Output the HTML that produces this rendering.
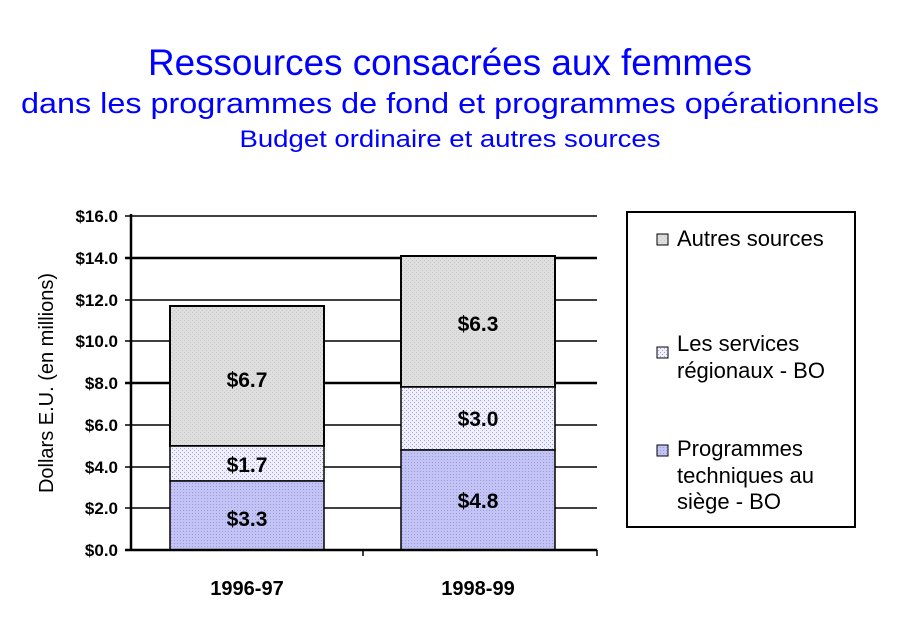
<!DOCTYPE html>
<html><head><meta charset="utf-8"><style>body{margin:0;background:#fff}svg{display:block}</style></head>
<body>
<svg width="900" height="623" xmlns="http://www.w3.org/2000/svg" font-family="Liberation Sans, sans-serif">
<defs>
<pattern id="pg" width="4" height="4" patternUnits="userSpaceOnUse"><rect width="4" height="4" fill="#dedede"/><rect width="1" height="1" fill="#c8c8c8"/><rect x="2" y="2" width="1" height="1" fill="#c8c8c8"/></pattern>
<pattern id="pm" width="4" height="4" patternUnits="userSpaceOnUse"><rect width="4" height="4" fill="#f0f0fa"/><rect width="1" height="1" fill="#a0a0e8"/><rect x="2" y="2" width="1" height="1" fill="#a0a0e8"/></pattern>
<pattern id="pb" width="3" height="3" patternUnits="userSpaceOnUse"><rect width="3" height="3" fill="#c4c4f4"/><rect width="1" height="1" fill="#9a9ae6"/></pattern>
</defs>
<g fill="#0000ff" text-anchor="middle">
<text x="450" y="75" font-size="37" textLength="604" lengthAdjust="spacingAndGlyphs">Ressources consacrées aux femmes</text>
<text x="450" y="113" font-size="29" textLength="858" lengthAdjust="spacingAndGlyphs">dans les programmes de fond et programmes opérationnels</text>
<text x="450" y="147" font-size="24" textLength="421" lengthAdjust="spacingAndGlyphs">Budget ordinaire et autres sources</text>
</g>
<g stroke="#000">
<line x1="125" y1="216" x2="597" y2="216" stroke-width="1.5"/>
<line x1="125" y1="258" x2="597" y2="258" stroke-width="2.5"/>
<line x1="125" y1="300" x2="597" y2="300" stroke-width="1.5"/>
<line x1="125" y1="341" x2="597" y2="341" stroke-width="1.5"/>
<line x1="125" y1="383" x2="597" y2="383" stroke-width="2.5"/>
<line x1="125" y1="425" x2="597" y2="425" stroke-width="1.5"/>
<line x1="125" y1="467" x2="597" y2="467" stroke-width="1.5"/>
<line x1="125" y1="508" x2="597" y2="508" stroke-width="1.5"/>
</g>
<rect x="170" y="306" width="154" height="140" fill="url(#pg)" stroke="#000" stroke-width="2"/>
<rect x="170" y="446" width="154" height="35" fill="url(#pm)" stroke="#000" stroke-width="1.5"/>
<rect x="170" y="481" width="154" height="69" fill="url(#pb)" stroke="#000" stroke-width="1.5"/>
<rect x="401" y="256" width="154" height="131" fill="url(#pg)" stroke="#000" stroke-width="2"/>
<rect x="401" y="387" width="154" height="63" fill="url(#pm)" stroke="#000" stroke-width="1.5"/>
<rect x="401" y="450" width="154" height="100" fill="url(#pb)" stroke="#000" stroke-width="1.5"/>
<g stroke="#000" stroke-width="2.5">
<line x1="131" y1="214" x2="131" y2="551"/>
<line x1="125" y1="550" x2="597" y2="550"/>
</g>
<line x1="363" y1="550" x2="363" y2="556" stroke="#000" stroke-width="1.5"/>
<line x1="597" y1="550" x2="597" y2="556" stroke="#000" stroke-width="1.5"/>
<g font-size="21" font-weight="bold" text-anchor="middle" fill="#000">
<text x="247" y="387">$6.7</text>
<text x="247" y="472">$1.7</text>
<text x="247" y="526">$3.3</text>
<text x="478" y="331">$6.3</text>
<text x="478" y="426">$3.0</text>
<text x="478" y="508">$4.8</text>
<text x="247" y="595" font-size="20">1996-97</text>
<text x="478" y="595" font-size="20">1998-99</text>
</g>
<g font-size="17" font-weight="bold" text-anchor="end" fill="#000">
<text x="118" y="222">$16.0</text>
<text x="118" y="264">$14.0</text>
<text x="118" y="306">$12.0</text>
<text x="118" y="347">$10.0</text>
<text x="118" y="389">$8.0</text>
<text x="118" y="431">$6.0</text>
<text x="118" y="473">$4.0</text>
<text x="118" y="514">$2.0</text>
<text x="118" y="556">$0.0</text>
</g>
<text transform="translate(53,383) rotate(-90)" font-size="20" text-anchor="middle">Dollars E.U. (en millions)</text>
<rect x="627" y="212" width="228" height="315" fill="#fff" stroke="#000" stroke-width="2"/>
<rect x="657" y="234" width="11" height="11" fill="url(#pg)" stroke="#000"/>
<rect x="657" y="347" width="11" height="11" fill="url(#pm)" stroke="#000"/>
<rect x="657" y="445" width="11" height="11" fill="url(#pb)" stroke="#000"/>
<g font-size="22" fill="#000">
<text x="677" y="246">Autres sources</text>
<text x="677" y="351">Les services</text>
<text x="677" y="378">régionaux - BO</text>
<text x="677" y="456">Programmes</text>
<text x="677" y="483">techniques au</text>
<text x="677" y="509">siège - BO</text>
</g>
</svg>
</body></html>
